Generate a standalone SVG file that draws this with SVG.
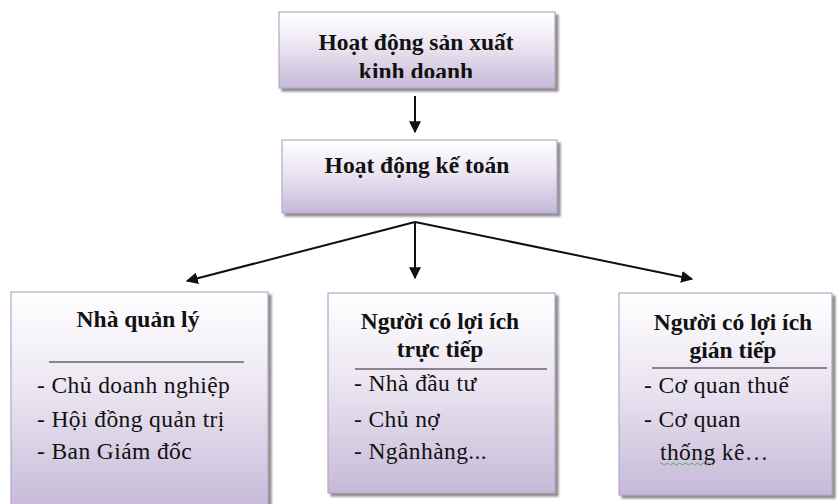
<svg xmlns="http://www.w3.org/2000/svg" width="838" height="504" viewBox="0 0 838 504">
  <style>
    .box { fill: url(#boxFill); stroke: #b3a7c9; stroke-width: 1.2; filter: url(#shade); }
    .head { font-family: 'Liberation Serif', 'DejaVu Serif', serif; font-weight: bold; font-size: 23.5px; fill: #111; text-anchor: middle; }
    .item { font-family: 'Liberation Serif', 'DejaVu Serif', serif; font-size: 23.5px; fill: #111; letter-spacing: 0.4px; }
    .rule { stroke: #222; stroke-width: 1.2; }
    .conn { stroke: #111; stroke-width: 2; fill: none; marker-end: url(#arrow); }
  </style>
  <defs>
    <linearGradient id="boxFill" x1="0" y1="0" x2="0" y2="1">
      <stop offset="0" stop-color="#ffffff"/>
      <stop offset="0.45" stop-color="#ebe5f1"/>
      <stop offset="1" stop-color="#c6b9d8"/>
    </linearGradient>
    <filter id="shade" x="-5%" y="-5%" width="115%" height="115%">
      <feDropShadow dx="3" dy="3" stdDeviation="1.2" flood-color="#6e6e6e" flood-opacity="0.8"/>
    </filter>
    <marker id="arrow" viewBox="0 0 10 10" refX="9" refY="5" markerWidth="6" markerHeight="6" orient="auto" markerUnits="strokeWidth">
      <path d="M0,0 L10,5 L0,10 Z" fill="#111"/>
    </marker>
    <clipPath id="topClip">
      <rect x="279" y="12" width="276" height="66"/>
    </clipPath>
  </defs>

  <!-- connectors -->
  <g id="connectors">
    <line class="conn" x1="415" y1="96" x2="415" y2="132"/>
    <line class="conn" x1="415" y1="222" x2="187" y2="281"/>
    <line class="conn" x1="415" y1="222" x2="415" y2="278"/>
    <line class="conn" x1="415" y1="222" x2="692" y2="279"/>
  </g>

  <!-- production and business activity -->
  <g id="node-sxkd">
    <rect class="box" x="279" y="12" width="276" height="76"/>
    <g clip-path="url(#topClip)">
      <text class="head" x="416" y="50">Hoạt động sản xuất</text>
      <text class="head" x="416" y="79">kinh doanh</text>
    </g>
  </g>

  <!-- accounting activity -->
  <g id="node-ketoan">
    <rect class="box" x="282" y="140" width="275" height="73"/>
    <text class="head" x="417" y="173">Hoạt động kế toán</text>
  </g>

  <!-- managers -->
  <g id="node-quanly">
    <rect class="box" x="11" y="292" width="257" height="220"/>
    <text class="head" x="138" y="327">Nhà quản lý</text>
    <line class="rule" x1="49" y1="362" x2="244" y2="362"/>
    <text class="item" x="37" y="393">- Chủ doanh nghiệp</text>
    <text class="item" x="37" y="427">- Hội đồng quản trị</text>
    <text class="item" x="37" y="459">- Ban Giám đốc</text>
  </g>

  <!-- direct stakeholders -->
  <g id="node-tructiep">
    <rect class="box" x="328" y="293" width="227" height="200"/>
    <text class="head" x="440" y="329">Người có lợi ích</text>
    <text class="head" x="440" y="357">trực tiếp</text>
    <line class="rule" x1="355" y1="369" x2="547" y2="369"/>
    <text class="item" x="354" y="391">- Nhà đầu tư</text>
    <text class="item" x="354" y="427">- Chủ nợ</text>
    <text class="item" x="354" y="459">- Ngânhàng...</text>
  </g>

  <!-- indirect stakeholders -->
  <g id="node-giantiep">
    <rect class="box" x="619" y="293" width="213" height="202"/>
    <text class="head" x="733" y="330">Người có lợi ích</text>
    <text class="head" x="733" y="358">gián tiếp</text>
    <line class="rule" x1="652" y1="368" x2="827" y2="368"/>
    <text class="item" x="644" y="393">- Cơ quan thuế</text>
    <text class="item" x="644" y="427">- Cơ quan</text>
    <text class="item" x="660" y="460">thống kê…</text>
    <path d="M660,464 q1.5,-2 3,0 t3,0 t3,0 t3,0 t3,0 t3,0 t3,0 t3,0 t3,0 t3,0 t3,0 t3,0 t3,0 t3,0 t3,0 t3,0 t3,0 t3,0" fill="none" stroke="#5aa05a" stroke-width="0.9"/>
  </g>
</svg>
